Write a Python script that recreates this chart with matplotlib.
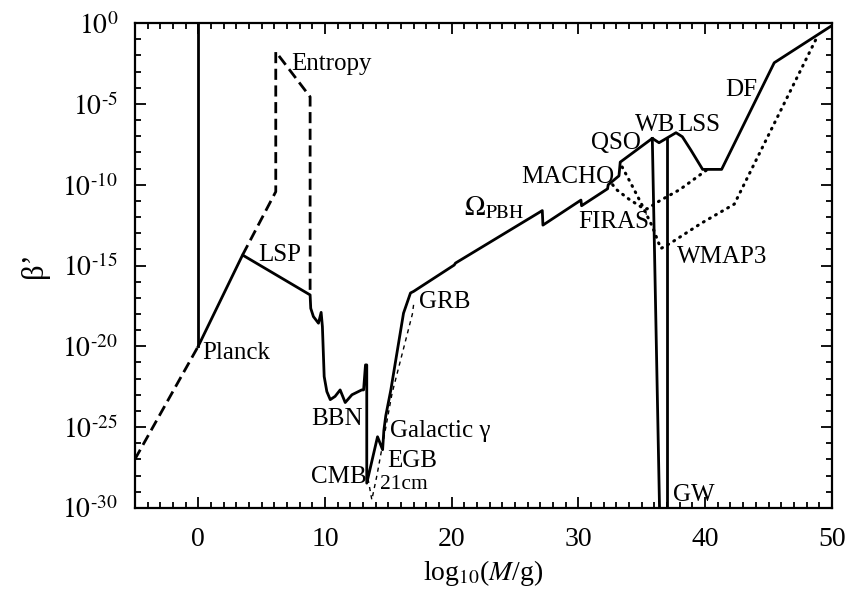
import numpy as np
import matplotlib
matplotlib.use("Agg")
import matplotlib.pyplot as plt
from matplotlib.ticker import FixedLocator, MultipleLocator, FuncFormatter, NullFormatter

plt.rcParams['font.family'] = ['Liberation Serif', 'DejaVu Serif']
plt.rcParams['mathtext.fontset'] = 'stix'

# log10(M/g) and log10(beta')
# main solid constraint curve
main_x = [0, 3.5, 8.83, 8.88, 9.09, 9.49, 9.7, 9.8, 9.94, 10.15, 10.42, 10.8, 11.2,
          11.6, 12.13, 12.9, 13.05, 13.2, 13.3, 13.3, 14.15, 14.55, 14.65, 14.8, 15.2,
          16.2, 16.75, 17.0, 20.2, 20.3, 27.15, 27.2, 30.2, 30.25, 32.3, 32.35, 33.2,
          33.3, 35.83, 36.36, 37.7, 38.2, 38.87, 39.8, 41.3, 45.45, 50.0]
main_y = [-20, -14.35, -16.82, -17.65, -18.16, -18.57, -17.9, -18.78, -21.87, -22.8,
          -23.3, -23.1, -22.7, -23.48, -23.0, -22.7, -22.7, -21.15, -21.15, -28.47,
          -25.6, -26.4, -25.2, -24.3, -22.7, -17.95, -16.7, -16.6, -14.97, -14.85,
          -11.6, -12.5, -10.95, -11.3, -10.25, -10.0, -9.45, -8.6, -7.13, -7.4, -6.78,
          -7.03, -7.85, -9.05, -9.05, -2.45, -0.15]

# Planck vertical line
planck_x = [0, 0]
planck_y = [0, -20]

# gravitational wave lines
gw1_x = [35.83, 36.4]
gw1_y = [-7.13, -30]
gw2_x = [37.0, 37.0]
gw2_y = [-7.1, -30]

# dashed extensions
relic_x = [-5, 0]
relic_y = [-27, -20]
entropy_x = [3.5, 6.12, 6.12, 8.83, 8.83]
entropy_y = [-14.35, -10.43, -1.77, -4.56, -16.82]

# 21cm thin dashed
cm21_x = [13.4, 13.7, 14.1, 15.3, 16.9, 17.0]
cm21_y = [-28.2, -29.5, -28.0, -22.9, -18.0, -17.4]

# dotted FIRAS and WMAP3
firas_x = [32.7, 33.0, 34.0, 35.0, 35.4, 36.4, 38.0, 40.1]
firas_y = [-10.0, -10.3, -10.9, -11.4, -11.5, -11.0, -10.3, -9.1]
wmap_x = [33.45, 34.13, 34.92, 35.84, 36.5, 37.3, 39.66, 42.3, 48.9]
wmap_y = [-8.9, -9.9, -11.1, -12.6, -13.95, -13.6, -12.4, -11.2, -0.75]

# labels: text, x, y (cap centre)
labels = ["Entropy", "LSP", "Planck", "BBN", "CMB", "EGB", "Galactic \u03b3", "GRB",
          r"$\Omega_{\rm PBH}$", "MACHO", "QSO", "WB", "LSS", "DF", "FIRAS", "WMAP3", "GW"]
label_x = [7.3, 4.75, 0.3, 8.88, 8.88, 14.94, 15.16, 17.4, 20.95, 25.5, 31.0, 34.5,
           37.8, 41.55, 30.0, 37.8, 37.5]
label_y = [-2.4, -14.2, -20.3, -24.35, -27.95, -27.0, -25.1, -17.1, -11.4, -9.4,
           -7.3, -6.2, -6.2, -4.0, -12.2, -14.35, -29.1]

fig = plt.figure(figsize=(8.48, 5.94), dpi=100)
ax = fig.add_axes([0.159, 0.145, 0.822, 0.816])

def lin(v):
    return 10.0 ** np.array(v)

lw = 2.0
ax.plot(main_x, lin(main_y), color='k', lw=lw)
ax.plot(planck_x, lin(planck_y), color='k', lw=lw)
ax.plot(gw1_x, lin(gw1_y), color='k', lw=lw)
ax.plot(gw2_x, lin(gw2_y), color='k', lw=lw)
ax.plot(relic_x, lin(relic_y), color='k', lw=lw, ls=(0, (4, 2)))
ax.plot(entropy_x, lin(entropy_y), color='k', lw=lw, ls=(0, (4, 2)))
ax.plot(cm21_x, lin(cm21_y), color='k', lw=1.0, ls=(0, (3, 3)))
ax.plot(firas_x, lin(firas_y), color='k', lw=2.2, ls=(0, (0.3, 2.0)),
        dash_capstyle='round')
ax.plot(wmap_x, lin(wmap_y), color='k', lw=2.2, ls=(0, (0.3, 2.0)),
        dash_capstyle='round')

for t, x, y in zip(labels, label_x, label_y):
    fs = 20 if t.startswith('$') else 18
    ax.text(x, 10.0 ** (y - 0.5), t, fontsize=fs, ha='left', va='baseline')
ax.text(14.37, 10.0 ** (-28.37 - 0.45), "21cm", fontsize=15.5, ha='left', va='baseline')

ax.set_yscale('log')
ax.set_xlim(-5, 50)
ax.set_ylim(1e-30, 1e0)
ax.xaxis.set_major_locator(MultipleLocator(10))
ax.xaxis.set_minor_locator(MultipleLocator(1))
ax.yaxis.set_major_locator(FixedLocator(10.0 ** np.arange(-30, 1, 5)))
ax.yaxis.set_minor_locator(FixedLocator(10.0 ** np.arange(-30, 1, 1)))
ax.yaxis.set_major_formatter(FuncFormatter(
    lambda v, p: r'$10^{\text{%d}}$' % round(np.log10(v))))
ax.yaxis.set_minor_formatter(NullFormatter())
ax.tick_params(which='both', direction='in', top=True, right=True, width=1.3)
ax.tick_params(which='major', length=8, labelsize=20)
ax.tick_params(axis='x', which='major', pad=14)
ax.tick_params(axis='y', which='major', pad=12)
ax.tick_params(which='minor', length=4)
for s in ax.spines.values():
    s.set_linewidth(1.6)

ax.set_xlabel(r"log$_{10}$($M$/g)", fontsize=20, labelpad=4)
ax.set_ylabel("\u03b2\u2019", fontsize=22, labelpad=10)

fig.savefig("out.png", dpi=100)
